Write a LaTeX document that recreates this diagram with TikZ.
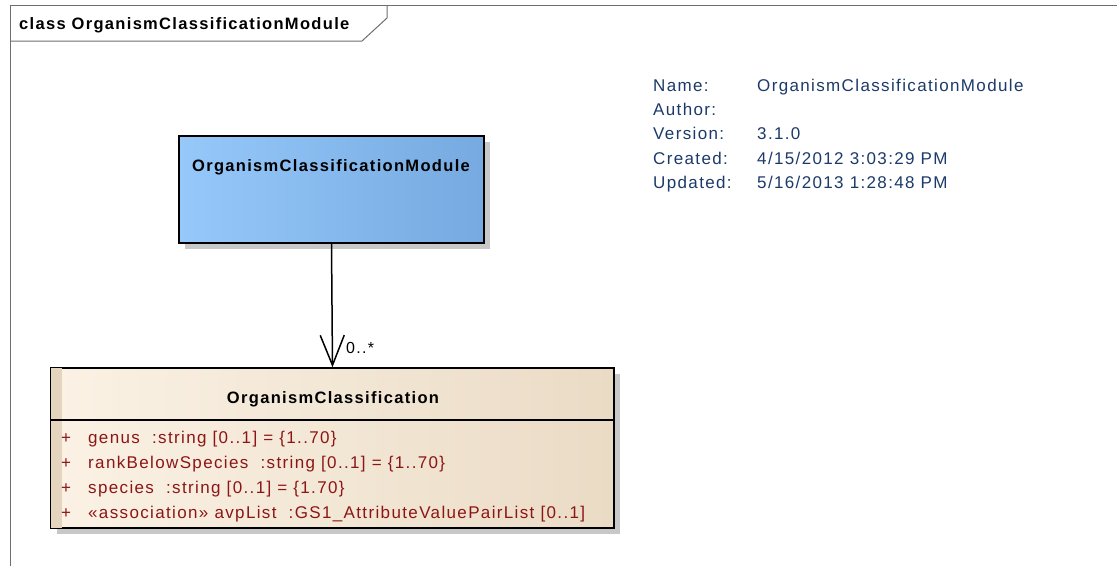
\documentclass[tikz,border=0pt]{standalone}
\usepackage{fontspec}
\setmainfont{Liberation Sans}[LetterSpace=8]
\usepackage{tikz}
\usetikzlibrary{arrows.meta, positioning}
\definecolor{framegray}{RGB}{110, 110, 110}
\definecolor{shadowgray}{RGB}{200, 200, 200}
\definecolor{modleft}{RGB}{150, 200, 250}
\definecolor{modmid}{RGB}{158, 206, 255}
\definecolor{modright}{RGB}{118, 170, 224}
\definecolor{clsleft}{RGB}{251, 242, 229}
\definecolor{clsright}{RGB}{234, 219, 197}
\definecolor{clsstrip}{RGB}{229, 213, 190}
\definecolor{attrred}{RGB}{140, 22, 22}
\definecolor{infoblue}{RGB}{28, 58, 105}

\begin{document}
\begin{tikzpicture}[x=1pt, y=-1pt,
    modbox/.style={rectangle, draw=black, line width=1.5pt, left color=modleft, middle color=modmid, right color=modright, minimum width=305pt, minimum height=107pt},
    clsbox/.style={rectangle, draw=black, line width=1.5pt, left color=clsleft, right color=clsright, minimum width=563pt, minimum height=160pt},
    boxtitle/.style={font=\fontsize{16.5}{18}\selectfont\bfseries, inner sep=0pt},
    attr/.style={font=\fontsize{17}{19}\selectfont, text=attrred, anchor=base west, inner sep=0pt},
    info/.style={font=\fontsize{17}{19}\selectfont, text=infoblue, anchor=base west, inner sep=0pt},
]
\useasboundingbox (0,0) rectangle (1117,566);

% frame and its tab
\draw[framegray, line width=1pt] (10,566) -- (10,5) -- (1117,5);
\draw[framegray, line width=1pt] (10,41) -- (362,41) -- (387,18) -- (387,5);
\node[boxtitle, anchor=base west] (frametitle) at (19,29) {class OrganismClassificationModule};

% module box
\fill[shadowgray] (185,142) rectangle (490,249);
\node[modbox] (mod) at (331.5,189.5) {};
\node[boxtitle, anchor=base] (modname) at (331,171) {OrganismClassificationModule};

% class box
\fill[shadowgray] (57,374) rectangle (620,534);
\node[clsbox] (cls) at (332.5,448) {};
\fill[clsstrip] ([shift={(1,1)}]cls.north west) rectangle ([shift={(12,-1)}]cls.south west);
\draw[line width=1.5pt] (cls.west |- 0,420) -- (cls.east |- 0,420);
\node[boxtitle, anchor=base] (clsname) at (333,403) {OrganismClassification};
\foreach \y/\txt [count=\i] in {
    443/{genus\ \ :string [0..1] = \{1..70\}},
    468/{rankBelowSpecies\ \ :string [0..1] = \{1..70\}},
    493/{species\ \ :string [0..1] = \{1.70\}},
    518/{«association» avpList\ \ :GS1\_AttributeValuePairList [0..1]}} {
  \node[attr] (plus\i) at (61,\y) {+};
  \node[attr] (attr\i) at (88,\y) {\txt};
}

% association
\draw[line width=1.5pt, -{Straight Barb[length=30pt, width=24pt, line width=1.5pt]}] (mod.south) -- (cls.north);
\node[font=\fontsize{16}{18}\selectfont, anchor=base west, inner sep=0pt] (mult) at (346,353) {0..*};

% diagram info
\foreach \y/\key/\val [count=\i] in {
    91/Name:/OrganismClassificationModule,
    115/Author:/{},
    139/Version:/3.1.0,
    164/Created:/{4/15/2012 3:03:29 PM},
    188/Updated:/{5/16/2013 1:28:48 PM}} {
  \node[info] (key\i) at (653,\y) {\key};
  \node[info] (val\i) at (757,\y) {\val};
}

\end{tikzpicture}
\end{document}
